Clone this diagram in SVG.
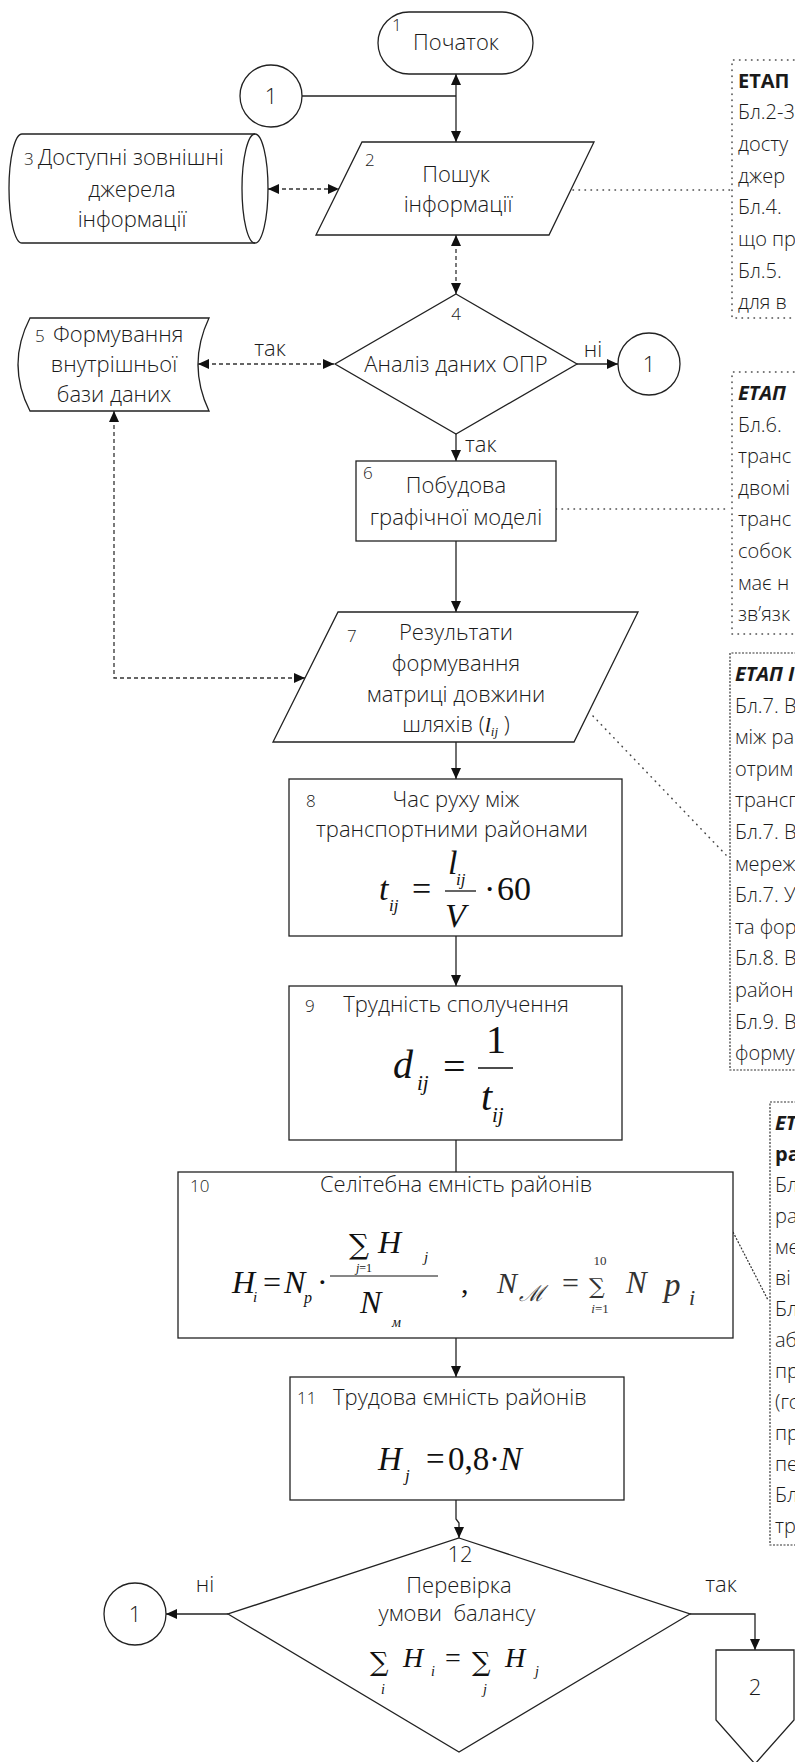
<svg xmlns="http://www.w3.org/2000/svg" width="795" height="1762" viewBox="0 0 795 1762">
<defs>
<marker id="ah" viewBox="0 0 11 10" refX="11" refY="5" markerWidth="11" markerHeight="10" markerUnits="userSpaceOnUse" orient="auto-start-reverse"><path d="M0,0 L11,5 L0,10 z" fill="#111"/></marker>
</defs>
<style>
.s{fill:#fff;stroke:#222;stroke-width:1.3}
.t{font-family:"Open Sans","Liberation Sans",sans-serif;font-size:22px;fill:#1a1a1a;font-weight:350}
.m{text-anchor:middle}
.n{font-size:17px}
.nt{font-family:"Open Sans","Liberation Sans",sans-serif;font-size:20px;fill:#1a1a1a;font-weight:350}
.b{font-weight:700}
.bi{font-weight:700;font-style:italic}
.f{font-family:"Liberation Serif","Times New Roman",serif;font-style:italic;fill:#111}
.fu{font-family:"Liberation Serif","Times New Roman",serif;fill:#111}
.sum{font-family:"DejaVu Serif",serif;fill:#111}
.g{fill:#333}
.ln{fill:none;stroke:#222;stroke-width:1.3}
.da{fill:none;stroke:#333;stroke-width:1.3;stroke-dasharray:4 3}
.dot{fill:none;stroke:#444;stroke-width:1.5;stroke-dasharray:0.5 5.5;stroke-linecap:round}
.dot2{fill:none;stroke:#333;stroke-width:1.2;stroke-dasharray:2 1.5}
</style>

<g id="connectors">
<path class="ln" d="M302,96 H456"/>
<path class="ln" d="M456,74 V142" marker-start="url(#ah)" marker-end="url(#ah)"/>
<path class="da" d="M268,189 H339" marker-start="url(#ah)" marker-end="url(#ah)"/>
<path class="da" d="M456,235 V294" marker-start="url(#ah)" marker-end="url(#ah)"/>
<path class="da" d="M198,364 H334" marker-start="url(#ah)" marker-end="url(#ah)"/>
<path class="ln" d="M577,364 H618" marker-end="url(#ah)"/>
<path class="ln" d="M456,434 V461" marker-end="url(#ah)"/>
<path class="da" d="M114,411 V678 H305" marker-start="url(#ah)" marker-end="url(#ah)"/>
<path class="ln" d="M456,541 V612" marker-end="url(#ah)"/>
<path class="ln" d="M456,742 V779" marker-end="url(#ah)"/>
<path class="ln" d="M456,936 V986" marker-end="url(#ah)"/>
<path class="ln" d="M456,1140 V1172"/>
<path class="ln" d="M456,1338 V1377" marker-end="url(#ah)"/>
<path class="ln" d="M456,1500 V1519 L459,1523 V1538" marker-end="url(#ah)"/>
<path class="ln" d="M228,1614 H166" marker-end="url(#ah)"/>
<path class="ln" d="M690,1614 H755 V1650" marker-end="url(#ah)"/>
<path class="dot" d="M573,190 H732"/>
<path class="dot" d="M556,509 H730"/>
<path class="dot" d="M593,716 L726,855"/>
<path class="dot2" d="M733,1232 L768,1300"/>
<text class="t" x="270" y="356" text-anchor="middle" font-size="20">так</text>
<text class="t" x="593" y="357" text-anchor="middle" font-size="20">ні</text>
<text class="t" x="465" y="452" font-size="20">так</text>
<text class="t" x="205" y="1592" text-anchor="middle" font-size="20">ні</text>
<text class="t" x="721" y="1592" text-anchor="middle" font-size="20">так</text>
</g>

<g id="n1">
<rect class="s" x="378" y="12" width="155" height="62" rx="31"/>
<text class="t n" x="392" y="31" font-size="15">1</text>
<text class="t m" x="456" y="50">Початок</text>
</g>

<g id="c1a">
<circle class="s" cx="271" cy="96" r="31"/>
<text class="t m" x="271" y="104" font-size="22">1</text>
</g>

<g id="n2">
<polygon class="s" points="362,142 594,142 549,235 316,235"/>
<text class="t n" x="365" y="166">2</text>
<text class="t m" x="456" y="182">Пошук</text>
<text class="t m" x="458" y="212">інформації</text>
</g>

<g id="n3">
<path class="s" d="M22,134 H255 A13,54.5 0 0 1 255,243 H22 A13,54.5 0 0 1 22,134 Z"/>
<path class="ln" d="M255,134 A13,54.5 0 0 0 255,243"/>
<text class="t n" x="24" y="165">3</text>
<text class="t" x="38" y="165">Доступні зовнішні</text>
<text class="t m" x="132" y="197">джерела</text>
<text class="t m" x="132" y="227">інформації</text>
</g>

<g id="n4">
<polygon class="s" points="456,294 577,364 456,434 335,364"/>
<text class="t m n" x="456" y="320">4</text>
<text class="t m" x="456" y="372" font-size="21">Аналіз даних ОПР</text>
</g>

<g id="c1b">
<circle class="s" cx="649" cy="364" r="31"/>
<text class="t m" x="649" y="372" font-size="22">1</text>
</g>

<g id="n5">
<path class="s" d="M30,318 H209 Q187,364.5 209,411 H30 Q6,364.5 30,318 Z"/>
<text class="t n" x="35" y="342">5</text>
<text class="t" x="53" y="342">Формування</text>
<text class="t m" x="114" y="372">внутрішньої</text>
<text class="t m" x="114" y="402">бази даних</text>
</g>

<g id="n6">
<rect class="s" x="356" y="461" width="200" height="80"/>
<text class="t n" x="363" y="479">6</text>
<text class="t m" x="456" y="493">Побудова</text>
<text class="t m" x="456" y="525">графічної моделі</text>
</g>

<g id="n7">
<polygon class="s" points="338,612 638,612 574,742 273,742"/>
<text class="t n" x="347" y="642">7</text>
<text class="t m" x="456" y="640">Результати</text>
<text class="t m" x="456" y="671">формування</text>
<text class="t m" x="456" y="702">матриці довжини</text>
<text class="t m" x="456" y="732">шляхів (<tspan font-family="Liberation Serif" font-style="italic">l</tspan><tspan font-family="Liberation Serif" font-style="italic" font-size="13" dy="4">ij</tspan><tspan dy="-4"> )</tspan></text>
</g>

<g id="n8">
<rect class="s" x="289" y="779" width="333" height="157"/>
<text class="t n" x="306" y="807">8</text>
<text class="t m" x="456" y="807">Час руху між</text>
<text class="t m" x="452" y="837">транспортними районами</text>
<text class="f" x="379" y="900" font-size="34">t</text>
<text class="f" x="389" y="911" font-size="17">ij</text>
<text class="fu" x="412" y="900" font-size="34">=</text>
<text class="f" x="448" y="874" font-size="34">l</text>
<text class="f" x="456" y="885" font-size="17">ij</text>
<line x1="445" y1="891" x2="476" y2="891" stroke="#111" stroke-width="1.3"/>
<text class="f" x="445" y="927" font-size="34">V</text>
<text class="fu" x="484" y="900" font-size="34">·</text>
<text class="fu" x="497" y="900" font-size="34">60</text>
</g>

<g id="n9">
<rect class="s" x="289" y="986" width="333" height="154"/>
<text class="t n" x="305" y="1012">9</text>
<text class="t m" x="456" y="1012">Трудність сполучення</text>
<text class="f" x="393" y="1078" font-size="40">d</text>
<text class="f" x="417" y="1090" font-size="21">ij</text>
<text class="fu" x="443" y="1080" font-size="40">=</text>
<line x1="478" y1="1068" x2="513" y2="1068" stroke="#111" stroke-width="1.4"/>
<text class="fu" x="496" y="1053" font-size="40" text-anchor="middle">1</text>
<text class="f" x="481" y="1110" font-size="40">t</text>
<text class="f" x="492" y="1122" font-size="21">ij</text>
</g>

<g id="n10">
<rect class="s" x="178" y="1172" width="555" height="166"/>
<text class="t n" x="190" y="1192">10</text>
<text class="t m" x="456" y="1192">Селітебна ємність районів</text>
<text class="f" x="232" y="1293" font-size="32">H</text>
<text class="f" x="253" y="1302" font-size="15">i</text>
<text class="fu" x="263" y="1293" font-size="32">=</text>
<text class="f" x="284" y="1293" font-size="32">N</text>
<text class="f" x="304" y="1303" font-size="16">p</text>
<text class="fu" x="317" y="1293" font-size="32">·</text>
<line x1="330" y1="1276" x2="438" y2="1276" stroke="#111" stroke-width="1.2"/>
<text class="sum" x="349" y="1254" font-size="28">∑</text>
<text class="f" x="378" y="1253" font-size="32">H</text>
<text class="f" x="424" y="1262" font-size="15">j</text>
<text class="f" x="364" y="1272" font-size="12" text-anchor="middle">j<tspan font-style="normal">=1</tspan></text>
<text class="f" x="360" y="1313" font-size="32">N</text>
<text class="f" x="392" y="1327" font-size="14">м</text>
<text class="fu" x="461" y="1293" font-size="30">,</text>
<text class="f g" x="497" y="1293" font-size="30">N</text>
<text x="519" y="1301" font-family="DejaVu Serif,serif" font-style="italic" font-size="22" fill="#333">ℳ</text>
<text class="fu g" x="562" y="1293" font-size="30">=</text>
<text class="sum g" x="589" y="1294" font-size="22">∑</text>
<text class="fu g" x="600" y="1265" font-size="13" text-anchor="middle">10</text>
<text class="f g" x="600" y="1313" font-size="13" text-anchor="middle">i<tspan font-style="normal">=1</tspan></text>
<text class="f g" x="626" y="1293" font-size="31">N</text>
<text class="f g" x="664" y="1296" font-size="33">p</text>
<text class="f g" x="689" y="1305" font-size="22">i</text>
</g>

<g id="n11">
<rect class="s" x="290" y="1377" width="334" height="123"/>
<text class="t n" x="297" y="1404">11</text>
<text class="t" x="333" y="1405" font-size="21">Трудова ємність районів</text>
<text class="f" x="378" y="1470" font-size="33">H</text>
<text class="f" x="405" y="1481" font-size="17">j</text>
<text class="fu" x="426" y="1470" font-size="33">=</text>
<text class="fu" x="448" y="1470" font-size="33">0,8</text>
<text class="fu" x="489" y="1470" font-size="33">·</text>
<text class="f" x="500" y="1470" font-size="33">N</text>
</g>

<g id="n12">
<polygon class="s" points="459,1538 690,1614 459,1752 228,1614"/>
<text class="t m" x="460" y="1562" font-size="20">12</text>
<text class="t m" x="459" y="1593">Перевірка</text>
<text class="t m" x="457" y="1621" xml:space="preserve">умови  балансу</text>
<text class="sum" x="370" y="1671" font-size="26">∑</text>
<text class="f" x="381" y="1694" font-size="14">i</text>
<text class="f" x="403" y="1667" font-size="28">H</text>
<text class="f" x="431" y="1676" font-size="14">i</text>
<text class="fu" x="445" y="1667" font-size="28">=</text>
<text class="sum" x="472" y="1671" font-size="26">∑</text>
<text class="f" x="483" y="1694" font-size="14">j</text>
<text class="f" x="505" y="1667" font-size="28">H</text>
<text class="f" x="535" y="1676" font-size="14">j</text>
</g>

<g id="c1c">
<circle class="s" cx="135" cy="1614" r="31"/>
<text class="t m" x="135" y="1622" font-size="22">1</text>
</g>

<g id="c2">
<polygon class="s" points="716,1650 794,1650 794,1720 755,1764 716,1720"/>
<text class="t m" x="755" y="1695" font-size="22">2</text>
</g>

<g id="note1">
<path class="dot" d="M800,60 H732 V318 H800"/>
<text class="nt b" x="738" y="88">ЕТАП</text>
<text class="nt" x="738" y="119">Бл.2-3</text>
<text class="nt" x="738" y="151">досту</text>
<text class="nt" x="738" y="183">джер</text>
<text class="nt" x="738" y="214">Бл.4.</text>
<text class="nt" x="738" y="246">що пр</text>
<text class="nt" x="738" y="278">Бл.5.</text>
<text class="nt" x="738" y="309">для в</text>
</g>

<g id="note2">
<path class="dot" d="M800,372 H732 V634 H800"/>
<text class="nt bi" x="738" y="400">ЕТАП</text>
<text class="nt" x="738" y="432">Бл.6.</text>
<text class="nt" x="738" y="463">транс</text>
<text class="nt" x="738" y="495">двомі</text>
<text class="nt" x="738" y="526">транс</text>
<text class="nt" x="738" y="558">собок</text>
<text class="nt" x="738" y="590">має н</text>
<text class="nt" x="738" y="621">зв’язк</text>
</g>

<g id="note3">
<path class="dot2" d="M800,653 H730 V1070 H800"/>
<text class="nt bi" x="735" y="681">ЕТАП І</text>
<text class="nt" x="735" y="713">Бл.7. В</text>
<text class="nt" x="735" y="744">між ра</text>
<text class="nt" x="735" y="776">отрим</text>
<text class="nt" x="735" y="807">трансп</text>
<text class="nt" x="735" y="839">Бл.7. В</text>
<text class="nt" x="735" y="871">мереж</text>
<text class="nt" x="735" y="902">Бл.7. У</text>
<text class="nt" x="735" y="934">та фор</text>
<text class="nt" x="735" y="965">Бл.8. В</text>
<text class="nt" x="735" y="997">район</text>
<text class="nt" x="735" y="1029">Бл.9. В</text>
<text class="nt" x="735" y="1060">форму</text>
</g>

<g id="note4">
<path class="dot2" d="M800,1102 H770 V1545 H800"/>
<text class="nt bi" x="775" y="1130">ЕТ</text>
<text class="nt b" x="775" y="1161">ра</text>
<text class="nt" x="775" y="1192">Бл</text>
<text class="nt" x="775" y="1223">ра</text>
<text class="nt" x="775" y="1254">ме</text>
<text class="nt" x="775" y="1285">ві</text>
<text class="nt" x="775" y="1316">Бл</text>
<text class="nt" x="775" y="1347">аб</text>
<text class="nt" x="775" y="1378">пр</text>
<text class="nt" x="775" y="1409">(го</text>
<text class="nt" x="775" y="1440">пр</text>
<text class="nt" x="775" y="1471">пе</text>
<text class="nt" x="775" y="1502">Бл</text>
<text class="nt" x="775" y="1533">тр</text>
</g>
</svg>
